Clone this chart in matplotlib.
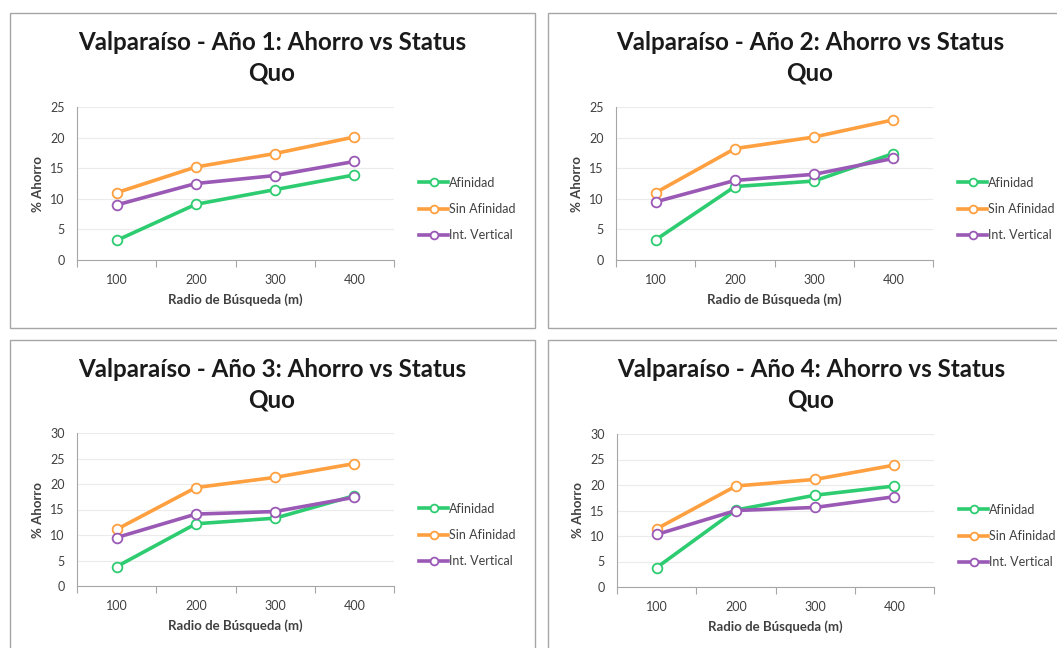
import matplotlib
matplotlib.use("Agg")
import matplotlib.pyplot as plt
from matplotlib.patches import Rectangle

plt.rcParams['font.family'] = ['Lato', 'DejaVu Sans']

W, H = 1057, 648

radios = ["100", "200", "300", "400"]
series_names = ["Afinidad", "Sin Afinidad", "Int. Vertical"]
colors = ["#2ECC71", "#FFA040", "#9B59B6"]

afinidad = [
    [3.2, 9.1, 11.5, 13.9],
    [3.3, 12.0, 12.9, 17.4],
    [3.8, 12.2, 13.3, 17.7],
    [3.8, 15.1, 18.0, 19.8],
]
sin_afinidad = [
    [11.0, 15.2, 17.4, 20.1],
    [11.0, 18.2, 20.1, 22.9],
    [11.1, 19.3, 21.3, 24.0],
    [11.4, 19.8, 21.1, 23.9],
]
int_vertical = [
    [9.0, 12.5, 13.8, 16.1],
    [9.5, 13.0, 14.0, 16.6],
    [9.5, 14.1, 14.6, 17.4],
    [10.3, 15.0, 15.6, 17.7],
]
ymax = [25, 25, 30, 30]
years = [1, 2, 3, 4]

fig = plt.figure(figsize=(W / 100, H / 100), dpi=100)


def fx(x):
    return x / W


def fy(y):
    return 1 - y / H


# box left/top/right/bottom, axes left/top/right/bottom, title centre x (pixels)
layout = [
    (10, 13, 535, 328, 77, 107, 394, 260, 272),
    (548, 13, 1075, 328, 616, 107, 933, 260, 810),
    (10, 340, 535, 660, 77, 433, 394, 586, 272),
    (548, 340, 1075, 660, 617, 434, 934, 587, 811),
]

for i in range(4):
    bl, bt, br, bb, al, at, ar, ab, tx = layout[i]
    fig.patches.append(Rectangle((fx(bl), fy(bb)), fx(br - bl), (bb - bt) / H,
                                 transform=fig.transFigure, fill=False,
                                 edgecolor="#a6a6a6", linewidth=1.0))
    ax = fig.add_axes([fx(al), fy(ab), fx(ar - al), (ab - at) / H])
    xs = range(1, len(radios) + 1)
    data = [afinidad[i], sin_afinidad[i], int_vertical[i]]
    for vals, name, c in zip(data, series_names, colors):
        ax.plot(xs, vals, color=c, linewidth=2.6, marker="o", markersize=7,
                markerfacecolor="white", markeredgecolor=c, markeredgewidth=1.3,
                label=name, zorder=3)
    ax.set_xlim(0.5, len(radios) + 0.5)
    ax.set_ylim(0, ymax[i])
    ax.set_yticks(range(0, ymax[i] + 1, 5))
    ax.set_xticks([k + 0.5 for k in range(0, len(radios) + 1)])
    ax.set_xticklabels([])
    ax.set_xticks(list(xs), minor=True)
    ax.set_xticklabels(radios, minor=True)
    ax.tick_params(axis="x", which="major", length=5, color="#a6a6a6")
    ax.tick_params(axis="x", which="minor", length=0, pad=10, labelsize=9, labelcolor="#404040")
    ax.tick_params(axis="y", length=0, pad=9, labelsize=9, labelcolor="#404040")
    ax.grid(axis="y", color="#ebebeb", linewidth=0.8)
    ax.set_axisbelow(True)
    for s in ["top", "right"]:
        ax.spines[s].set_visible(False)
    for s in ["left", "bottom"]:
        ax.spines[s].set_color("#a6a6a6")
    ax.set_xlabel("Radio de Búsqueda (m)", fontsize=9.5, fontweight="bold", color="#404040", labelpad=5)
    ax.set_ylabel("% Ahorro", fontsize=9.5, fontweight="bold", color="#404040", labelpad=4)
    fig.text(fx(tx), fy(bt + 45),
             "Valparaíso - Año %d: Ahorro vs Status\nQuo" % years[i],
             ha="center", va="center", fontsize=17.4, fontweight="bold",
             color="#1a1a1a", linespacing=1.42)
    ax.legend(loc="center left", bbox_to_anchor=(fx(ar + 14), fy(ab - 51)),
              bbox_transform=fig.transFigure, frameon=False, fontsize=9,
              handlelength=2.3, handletextpad=0.1, labelspacing=1.15,
              markerscale=0.8, labelcolor="#404040")

fig.savefig("out.png", dpi=100)
